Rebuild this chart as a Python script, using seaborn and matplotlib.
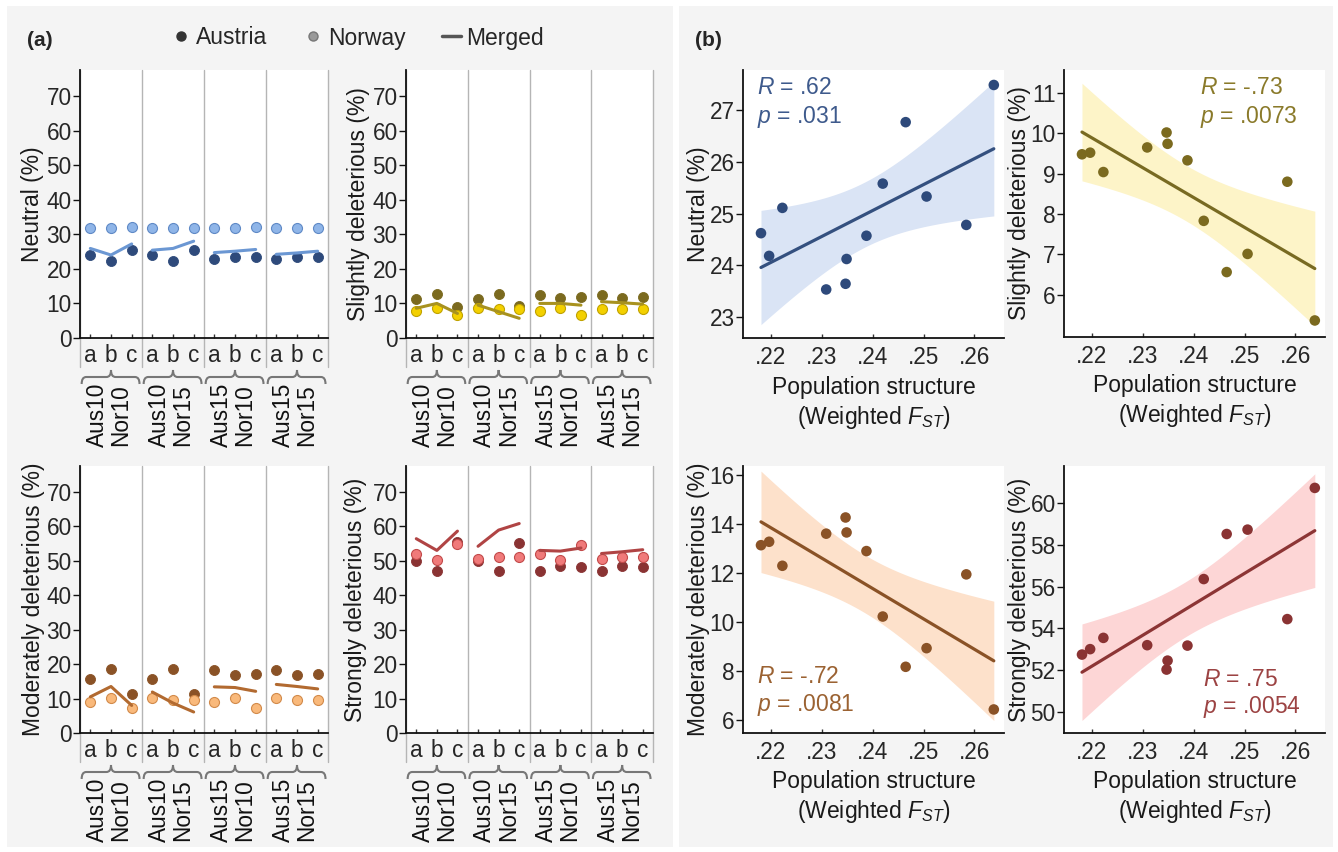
import numpy as np
import pandas as pd
import matplotlib
matplotlib.use("Agg")
import matplotlib.pyplot as plt
import matplotlib.transforms as mtransforms
from matplotlib.path import Path
from matplotlib.patches import PathPatch, Rectangle
from matplotlib.lines import Line2D
from matplotlib.ticker import FuncFormatter
import seaborn as sns

# ---------------- data ----------------
categories = ["a", "b", "c"] * 4
groups = ["Aus10\nNor10", "Aus10\nNor15", "Aus15\nNor10", "Aus15\nNor15"]

neutral_austria = [24.0, 22.4, 25.4, 24.0, 22.4, 25.4, 22.9, 23.5, 23.5, 22.9, 23.5, 23.5]
neutral_norway = [31.7, 31.7, 32.2, 31.7, 31.7, 31.7, 31.7, 31.7, 32.2, 31.7, 31.7, 31.7]
neutral_merged = [25.9, 24.0, 27.2, 25.4, 25.9, 28.0, 24.7, 25.1, 25.6, 24.2, 24.6, 25.1]

slight_austria = [11.3, 12.6, 9.0, 11.3, 12.6, 9.2, 12.4, 11.7, 11.9, 12.4, 11.7, 11.9]
slight_norway = [7.8, 8.6, 6.6, 8.6, 8.3, 8.3, 7.8, 8.6, 6.6, 8.4, 8.3, 8.3]
slight_merged = [8.6, 10.0, 7.1, 9.5, 7.6, 5.7, 10.0, 10.0, 9.5, 10.5, 10.2, 9.8]

mod_austria = [15.6, 18.7, 11.2, 15.6, 18.7, 11.2, 18.2, 16.7, 17.1, 18.2, 16.7, 17.1]
mod_norway = [9.0, 10.3, 7.3, 10.3, 9.7, 9.7, 9.0, 10.3, 7.3, 10.2, 9.7, 9.7]
mod_merged = [10.5, 13.5, 8.0, 11.9, 8.7, 6.1, 13.4, 13.2, 12.1, 14.1, 13.5, 12.8]

strong_austria = [49.9, 47.0, 55.5, 49.9, 47.0, 55.1, 47.0, 48.6, 48.1, 47.0, 48.6, 48.1]
strong_norway = [52.1, 50.3, 54.8, 50.5, 51.0, 51.0, 52.1, 50.3, 54.7, 50.5, 51.0, 51.0]
strong_merged = [56.4, 53.0, 58.6, 54.2, 58.9, 60.8, 53.0, 52.8, 53.7, 52.1, 52.6, 53.2]

fst = [0.2181, 0.2197, 0.2223, 0.2309, 0.2347, 0.2349, 0.2388, 0.2420, 0.2465, 0.2506, 0.2584, 0.2638]
neutral_pct = [24.62, 24.18, 25.11, 23.53, 23.64, 24.12, 24.57, 25.58, 26.77, 25.33, 24.78, 27.49]
slight_pct = [9.48, 9.52, 9.04, 9.65, 10.02, 9.74, 9.33, 7.83, 6.56, 7.01, 8.80, 5.36]
mod_pct = [13.14, 13.28, 12.30, 13.61, 14.27, 13.66, 12.90, 10.23, 8.18, 8.94, 11.95, 6.44]
strong_pct = [52.75, 53.01, 53.55, 53.20, 52.03, 52.46, 53.18, 56.37, 58.53, 58.74, 54.45, 60.74]

stats_text = [("R", ".62", ".031"), ("R", "-.73", ".0073"), ("R", "-.72", ".0081"), ("R", ".75", ".0054")]
ylabels = ["Neutral (%)", "Slightly deleterious (%)", "Moderately deleterious (%)", "Strongly deleterious (%)"]

# ---------------- style ----------------
sns.set_theme(style="white")
plt.rcParams["font.family"] = ["Liberation Sans", "DejaVu Sans"]
plt.rcParams["mathtext.fontset"] = "custom"
plt.rcParams["mathtext.rm"] = "Liberation Sans"
plt.rcParams["mathtext.it"] = "Liberation Sans:italic"
plt.rcParams["mathtext.bf"] = "Liberation Sans:bold"

W, H = 1338, 852
fig = plt.figure(figsize=(W / 100, H / 100), dpi=100, facecolor="white")

fig.patches.append(Rectangle((7 / W, 1 - 847 / H), (673 - 7) / W, (847 - 6) / H,
                             transform=fig.transFigure, facecolor="#f4f4f4", edgecolor="none", zorder=-10))
fig.patches.append(Rectangle((679 / W, 1 - 847 / H), (1333 - 679) / W, (847 - 6) / H,
                             transform=fig.transFigure, facecolor="#f4f4f4", edgecolor="none", zorder=-10))


def add_ax(l, t, r, b):
    return fig.add_axes([l / W, 1 - b / H, (r - l) / W, (b - t) / H])


def analytic_band(x, y, grid, tval=2.228):
    x = np.asarray(x, float)
    y = np.asarray(y, float)
    n = len(x)
    b1, b0 = np.polyfit(x, y, 1)
    resid = y - (b0 + b1 * x)
    s = np.sqrt(np.sum(resid ** 2) / (n - 2))
    sxx = np.sum((x - x.mean()) ** 2)
    yhat = b0 + b1 * grid
    half = tval * s * np.sqrt(1 / n + (grid - x.mean()) ** 2 / sxx)
    return yhat - half, yhat + half


palette = [
    dict(aus="#2e4a7b", nor="#8fb5e8", nor_e="#5f89c6", mer="#6b97d3", reg="#34507f", band="#dae4f5", txt="#3e5a8c"),
    dict(aus="#7b6a1f", nor="#f3d000", nor_e="#c0a200", mer="#a8921f", reg="#786a22", band="#fdf4c8", txt="#8a7a2a"),
    dict(aus="#8a5226", nor="#f9b97b", nor_e="#d28a4a", mer="#b26a30", reg="#8a5226", band="#fde1cb", txt="#9b6232"),
    dict(aus="#8a3333", nor="#f07a7a", nor_e="#c24a4a", mer="#b04444", reg="#8c3535", band="#fdd6d6", txt="#9c4343"),
]

a_series = [
    (neutral_austria, neutral_norway, neutral_merged),
    (slight_austria, slight_norway, slight_merged),
    (mod_austria, mod_norway, mod_merged),
    (strong_austria, strong_norway, strong_merged),
]
b_series = [neutral_pct, slight_pct, mod_pct, strong_pct]

a_boxes = [(80, 70, 328, 338), (406, 70, 653, 338), (80, 466, 328, 733), (406, 466, 653, 733)]
a_labelx = [-0.145, -0.146, -0.141, -0.158]
b_boxes = [(743, 70, 1004, 338), (1064, 70, 1325, 337), (743, 466, 1004, 733), (1064, 466, 1325, 733)]
b_labelx = [-0.128, -0.128, -0.128, -0.128]
b_ylims = [(22.59, 27.78), (4.95, 11.57), (5.48, 16.37), (48.99, 61.79)]
b_yticks = [np.arange(23, 28, 1), np.arange(6, 12, 1), np.arange(6, 17, 2), np.arange(50, 61, 2)]
b_text_pos = [(0.054, 0.933, 0.825), (0.521, 0.933, 0.825), (0.054, 0.21, 0.105), (0.533, 0.199, 0.097)]

TICK_FS = 16.3
LAB_FS = 16.5
pos = np.arange(12)

# ---------------- panel (a) ----------------
for i, (box, (aus, nor, mer)) in enumerate(zip(a_boxes, a_series)):
    c = palette[i]
    ax = add_ax(*box)
    ax.set_facecolor("white")
    df = pd.DataFrame({"pos": pos, "cat": categories, "group": np.repeat(np.arange(4), 3),
                       "aus": aus, "nor": nor, "mer": mer})
    sns.scatterplot(data=df, x="pos", y="aus", ax=ax, color=c["aus"], s=52, edgecolor=c["aus"],
                    linewidth=0.6, zorder=3, legend=False)
    sns.scatterplot(data=df, x="pos", y="nor", ax=ax, color=c["nor"], s=52, edgecolor=c["nor_e"],
                    linewidth=0.8, zorder=4, legend=False)
    sns.lineplot(data=df, x="pos", y="mer", units="group", estimator=None, ax=ax,
                 color=c["mer"], lw=2.2, zorder=5, legend=False)
    ax.set_xlim(-0.5, 11.5)
    ax.set_ylim(0, 77.5)
    ax.set_yticks(np.arange(0, 71, 10))
    ax.set_xticks(pos)
    ax.set_xticklabels(categories)
    ax.set_xlabel("")
    ax.set_ylabel(ylabels[i], fontsize=LAB_FS, color="#1a1a1a")
    ax.yaxis.set_label_coords(a_labelx[i], 0.5)
    for s in ["top", "right"]:
        ax.spines[s].set_visible(False)
    for s in ["left", "bottom"]:
        ax.spines[s].set_color("#111111")
        ax.spines[s].set_linewidth(1.3)
        ax.spines[s].set_zorder(6)
    ax.tick_params(axis="x", direction="in", length=3, width=1, color="#333333",
                   labelsize=TICK_FS, pad=4, bottom=True)
    ax.tick_params(axis="y", direction="out", length=5, width=1, color="#111111",
                   labelsize=TICK_FS, pad=1, left=True)
    ax.grid(False)

    top_px, bot_px = box[1], box[3]
    ax_h = bot_px - top_px
    ext = -(29) / ax_h
    blend_ax = mtransforms.blended_transform_factory(ax.transData, ax.transAxes)
    for xs in [-0.5, 2.5, 5.5, 8.5, 11.5]:
        ax.plot([xs, xs], [1, ext], transform=blend_ax, color="#b5b5b5", lw=1.0,
                clip_on=False, zorder=1)

    # braces and group labels
    blend = mtransforms.blended_transform_factory(ax.transData, fig.transFigure)
    yl = 1 - (bot_px + 39) / H
    yp = 1 - (bot_px + 32) / H
    yb = 1 - (bot_px + 46) / H
    for g in range(4):
        x0 = g * 3 - 0.5 + 0.08
        x1 = g * 3 + 2.5 - 0.12
        xm = g * 3 + 1
        d = 0.22
        verts = [(x0, yb), (x0, yl), (x0 + d, yl),
                 (xm - d, yl),
                 (xm, yl), (xm, yp),
                 (xm, yl), (xm + d, yl),
                 (x1 - d, yl),
                 (x1, yl), (x1, yb)]
        codes = [Path.MOVETO, Path.CURVE3, Path.CURVE3,
                 Path.LINETO,
                 Path.CURVE3, Path.CURVE3,
                 Path.CURVE3, Path.CURVE3,
                 Path.LINETO,
                 Path.CURVE3, Path.CURVE3]
        patch = PathPatch(Path(verts, codes), transform=blend, facecolor="none",
                          edgecolor="#777777", lw=1.5, clip_on=False)
        ax.add_patch(patch)
        ax.text(xm - 0.1, 1 - (bot_px + 45) / H, groups[g], transform=blend, rotation=90,
                ha="center", va="top", fontsize=TICK_FS, linespacing=1.02,
                color="#111111", clip_on=False)

# ---------------- panel (b) ----------------
for i, (box, yv) in enumerate(zip(b_boxes, b_series)):
    c = palette[i]
    ax = add_ax(*box)
    ax.set_facecolor("white")
    dfb = pd.DataFrame({"fst": fst, "val": yv})
    grid = np.linspace(min(fst), max(fst), 200)
    lo, hi = analytic_band(fst, yv, grid)
    ax.fill_between(grid, lo, hi, color=c["band"], lw=0, zorder=1)
    sns.regplot(data=dfb, x="fst", y="val", ax=ax, scatter=False, ci=None,
                color=c["reg"], line_kws=dict(lw=2.3, zorder=3))
    sns.scatterplot(data=dfb, x="fst", y="val", ax=ax, color=c["aus"], s=58,
                    edgecolor="none", zorder=4, legend=False)
    ax.set_xlim(0.21457, 0.2658)
    ax.set_ylim(*b_ylims[i])
    ax.set_yticks(b_yticks[i])
    ax.set_xticks([0.22, 0.23, 0.24, 0.25, 0.26])
    ax.xaxis.set_major_formatter(FuncFormatter(lambda v, _: f"{v:.2f}".lstrip("0")))
    ax.set_ylabel(ylabels[i], fontsize=LAB_FS, color="#1a1a1a")
    ax.yaxis.set_label_coords(b_labelx[i], 0.5)
    ax.set_xlabel("Population structure\n(Weighted $F_{ST}$)", fontsize=LAB_FS,
                  color="#1a1a1a", linespacing=1.25)
    ax.xaxis.set_label_coords(0.5, -0.14)
    for s in ["top", "right"]:
        ax.spines[s].set_visible(False)
    for s in ["left", "bottom"]:
        ax.spines[s].set_color("#111111")
        ax.spines[s].set_linewidth(1.3)
    ax.tick_params(axis="x", direction="in", length=3, width=1, color="#333333",
                   labelsize=TICK_FS, pad=6, bottom=True)
    ax.tick_params(axis="y", direction="out", length=5, width=1, color="#111111",
                   labelsize=TICK_FS, pad=1, left=True)
    ax.grid(False)
    tx, ty1, ty2 = b_text_pos[i]
    sym, rv, pv = stats_text[i]
    ax.text(tx, ty1, f"$\\it{{{sym}}}$ = {rv}", transform=ax.transAxes, fontsize=LAB_FS,
            color=c["txt"], ha="left", va="center")
    ax.text(tx, ty2, f"$\\it{{p}}$ = {pv}", transform=ax.transAxes, fontsize=LAB_FS,
            color=c["txt"], ha="left", va="center")

# ---------------- labels and legend ----------------
fig.text(27 / W, 1 - 40 / H, "(a)", fontsize=15, fontweight="bold", ha="left", va="center")
fig.text(695 / W, 1 - 40 / H, "(b)", fontsize=15, fontweight="bold", ha="left", va="center")

handles = [
    Line2D([], [], marker="o", ls="none", color="#333333", markersize=6.5),
    Line2D([], [], marker="o", ls="none", markerfacecolor="#9a9a9a", markeredgecolor="#777777", markersize=6.5),
    Line2D([], [], color="#555555", lw=2.5),
]
fig.legend(handles, ["Austria", "Norway", "Merged"], loc="center",
           bbox_to_anchor=(358 / W, 1 - 38 / H), ncol=3, frameon=False, fontsize=LAB_FS,
           handlelength=0.8, handletextpad=0.25, columnspacing=1.6, borderaxespad=0)

fig.savefig("out.png", dpi=100, facecolor="white")
